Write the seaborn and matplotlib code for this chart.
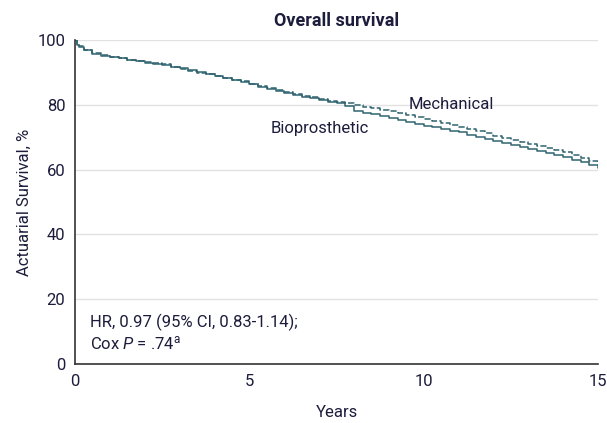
import pandas as pd
import matplotlib
matplotlib.use("Agg")
import matplotlib.pyplot as plt
from matplotlib import font_manager
import seaborn as sns

# Kaplan-Meier style curves
years = [0, 0.05, 0.1, 0.25, 0.5, 0.75, 1, 1.25, 1.5, 1.75, 2, 2.25, 2.5, 2.75,
         3, 3.25, 3.5, 3.75, 4, 4.25, 4.5, 4.75, 5, 5.25, 5.5, 5.75, 6, 6.25,
         6.5, 6.75, 7, 7.25, 7.5, 7.75, 8, 8.25, 8.5, 8.75, 9, 9.25, 9.5, 9.75,
         10, 10.25, 10.5, 10.75, 11, 11.25, 11.5, 11.75, 12, 12.25, 12.5, 12.75,
         13, 13.25, 13.5, 13.75, 14, 14.25, 14.5, 14.75, 15]
bio = [100, 98.5, 97.8, 96.8, 95.8, 95.2, 94.8, 94.3, 93.8, 93.4, 93.0, 92.6,
       92.2, 91.7, 91.2, 90.6, 90.0, 89.4, 88.8, 88.2, 87.6, 87.0, 86.3, 85.6,
       85.0, 84.3, 83.6, 83.0, 82.5, 82.0, 81.5, 81.0, 80.5, 79.6, 78.2, 77.6,
       77.0, 76.5, 76.0, 75.4, 74.8, 74.1, 73.4, 73.0, 72.5, 72.0, 71.5, 70.8,
       70.2, 69.5, 68.8, 68.2, 67.6, 67.0, 66.3, 65.6, 65.0, 64.4, 63.8, 63.0,
       62.3, 61.4, 60.6]
mech = [100, 98.8, 98.0, 97.0, 96.0, 95.3, 94.8, 94.3, 93.9, 93.5, 93.2, 92.8,
        92.5, 91.8, 91.0, 90.4, 89.8, 89.4, 89.0, 88.4, 87.8, 87.2, 86.5, 85.8,
        85.2, 84.6, 84.0, 83.4, 82.8, 82.3, 81.8, 81.3, 80.8, 80.4, 79.8, 79.4,
        79.0, 78.5, 78.0, 77.4, 76.8, 76.2, 75.5, 74.9, 74.3, 73.8, 73.2, 72.6,
        72.0, 71.2, 70.5, 69.9, 69.2, 68.6, 68.0, 67.4, 66.8, 66.0, 65.3, 64.4,
        63.5, 62.8, 62.2]
groups = ["Bioprosthetic", "Mechanical"]
x_ticks = [0, 5, 10, 15]
y_ticks = [0, 20, 40, 60, 80, 100]

TEXT = "#1c1c3c"
LINE = "#2f6470"

sns.set_style("white")
installed = {f.name for f in font_manager.fontManager.ttflist}
family = "Liberation Sans Narrow" if "Liberation Sans Narrow" in installed else "Roboto"
plt.rcParams["font.family"] = [family, "DejaVu Sans"]
plt.rcParams["mathtext.fontset"] = "custom"
plt.rcParams["mathtext.rm"] = family
plt.rcParams["mathtext.it"] = family + ":italic"

df = pd.concat([
    pd.DataFrame({"years": years, "surv": bio, "group": groups[0]}),
    pd.DataFrame({"years": years, "surv": mech, "group": groups[1]}),
])

fig = plt.figure(figsize=(6.07, 4.23), dpi=100)
ax = fig.add_axes([0.1236, 0.1395, 0.8617, 0.766])

sns.lineplot(data=df, x="years", y="surv", hue="group", style="group",
             palette=[LINE, LINE], dashes=[(None, None), (4, 1.5)],
             estimator=None, sort=False, drawstyle="steps-post",
             linewidth=1.1, legend=False, ax=ax)

ax.set_xlim(0, 15)
ax.set_ylim(0, 100)
ax.set_xticks(x_ticks)
ax.set_yticks(y_ticks)
ax.yaxis.grid(True, color="#e2e2e2", linewidth=1)
ax.set_axisbelow(True)
sns.despine(ax=ax)
for s in ["left", "bottom"]:
    ax.spines[s].set_color("#333333")
    ax.spines[s].set_linewidth(1.2)
ax.tick_params(axis="both", direction="out", length=5, width=1.1,
               color="#333333", labelsize=12, labelcolor=TEXT, pad=2)

ax.set_xlabel("Years", fontsize=12, color=TEXT, labelpad=12)
ax.set_ylabel("Actuarial Survival, %", fontsize=12, color=TEXT, labelpad=4)
ax.set_title("Overall survival", fontsize=13, fontweight="bold", color=TEXT, pad=10)

ax.text(10.8, 80, "Mechanical", fontsize=12, color=TEXT, ha="center", va="center")
ax.text(7.03, 72.7, "Bioprosthetic", fontsize=12, color=TEXT, ha="center", va="center")
ax.text(0.43, 13, "HR, 0.97 (95% CI, 0.83-1.14);", fontsize=12, color=TEXT, va="center")
ax.text(0.43, 6.5, r"Cox $\mathit{P}$ = .74$^\mathrm{a}$", fontsize=12, color=TEXT, va="center")

fig.savefig("out.png", dpi=100)
